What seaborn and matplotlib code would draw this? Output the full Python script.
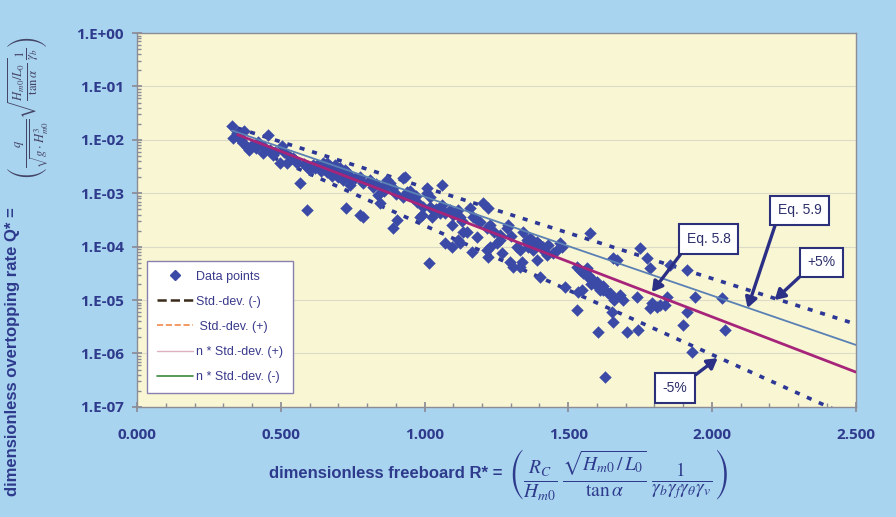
"""Dimensionless overtopping rate vs dimensionless freeboard (log scale)."""
import numpy as np
import pandas as pd
import matplotlib
matplotlib.use("Agg")
import matplotlib.pyplot as plt
from matplotlib.lines import Line2D
from matplotlib.ticker import FuncFormatter, MultipleLocator, LogLocator, NullFormatter
import seaborn as sns

OUTPUT_PATH = "out.png"

# measured data points: R* and Q*
r_star = [
    0.330, 0.334, 0.348, 0.372, 0.369, 0.382, 0.389, 0.414, 0.421, 0.438,
    0.455, 0.462, 0.473, 0.504, 0.511, 0.497, 0.532, 0.542, 0.556, 0.567,
    0.522, 0.591, 0.591, 0.602, 0.612, 0.626, 0.647, 0.647, 0.661, 0.671,
    0.681, 0.695, 0.699, 0.713, 0.716, 0.730, 0.741, 0.727, 0.741, 0.758,
    0.775, 0.775, 0.786, 0.786, 0.688, 0.706, 0.723, 0.678, 0.810, 0.821,
    0.838, 0.845, 0.869, 0.855, 0.890, 0.880, 0.890, 0.904, 0.925, 0.932,
    0.925, 0.939, 0.960, 0.974, 0.984, 0.994, 0.991, 1.008, 1.008, 1.019,
    1.019, 1.029, 1.026, 1.015, 1.061, 1.054, 1.071, 1.088, 1.095, 1.099,
    1.116, 1.123, 1.071, 1.095, 1.116, 1.123, 1.134, 1.158, 1.168, 1.147,
    1.165, 1.193, 1.203, 1.220, 1.227, 1.217, 1.182, 1.227, 1.217, 1.220,
    1.252, 1.262, 1.262, 1.286, 1.290, 1.269, 1.297, 1.307, 1.332, 1.339,
    1.332, 1.321, 1.342, 1.356, 1.356, 1.366, 1.377, 1.391, 1.401, 1.391,
    1.377, 1.401, 1.412, 1.426, 1.429, 1.446, 1.460, 1.471, 1.478, 1.488,
    1.533, 1.530, 1.530, 1.540, 1.551, 1.565, 1.565, 1.575, 1.547, 1.568,
    1.586, 1.603, 1.610, 1.620, 1.638, 1.603, 1.627, 1.645, 1.652, 1.655,
    1.655, 1.669, 1.655, 1.679, 1.690, 1.704, 1.742, 1.739, 1.749, 1.773,
    1.784, 1.784, 1.791, 1.808, 1.818, 1.836, 1.843, 1.853, 1.898, 1.912,
    1.940, 1.912, 1.930, 2.034, 2.045,
    0.650, 0.660, 0.670, 0.690, 0.700, 0.720, 0.730, 0.740, 0.620, 0.640,
    0.580, 0.550, 0.480, 0.440, 0.400, 0.360, 0.830, 0.860, 0.900, 0.950,
    0.970, 1.040, 1.060, 1.100, 1.130, 1.180, 1.240, 1.300, 1.360, 1.420,
    1.580, 1.600, 1.620, 1.660, 1.570,
]
q_star = [
    1.81e-2, 1.08e-2, 1.34e-2, 1.46e-2, 8.7e-3, 7.3e-3, 6.4e-3, 7.0e-3, 9.1e-3, 5.7e-3,
    1.23e-2, 6.4e-3, 5.2e-3, 7.7e-3, 5.9e-3, 3.7e-3, 4.8e-3, 4.6e-3, 3.7e-3, 1.55e-3,
    3.7e-3, 4.8e-4, 3.1e-3, 2.7e-3, 3.4e-3, 3.4e-3, 3.7e-3, 3.1e-3, 3.7e-3, 2.7e-3,
    2.7e-3, 2.4e-3, 2.0e-3, 2.4e-3, 1.77e-3, 2.2e-3, 1.77e-3, 5.3e-4, 1.43e-3, 1.93e-3,
    2.0e-3, 3.9e-4, 3.6e-4, 1.55e-3, 3.4e-3, 3.0e-3, 2.7e-3, 2.1e-3, 1.77e-3, 1.31e-3,
    9.2e-4, 6.5e-4, 1.77e-3, 1.31e-3, 1.25e-3, 1.55e-3, 2.2e-4, 3.1e-4, 1.93e-3, 2.0e-3,
    8.5e-4, 1.05e-3, 8.1e-4, 6.8e-4, 3.6e-4, 5.5e-4, 3.9e-4, 1.25e-3, 1.01e-3, 8.5e-4,
    5.5e-4, 4.8e-4, 3.6e-4, 4.9e-5, 1.43e-3, 4.3e-4, 4.3e-4, 4.8e-4, 2.5e-4, 3.9e-4,
    4.8e-4, 3.6e-4, 1.17e-4, 9.8e-5, 1.33e-4, 1.17e-4, 1.88e-4, 5.3e-4, 3.6e-4, 1.88e-4,
    7.9e-5, 2.9e-4, 6.5e-4, 5.3e-4, 2.5e-4, 2.2e-4, 1.51e-4, 9.8e-5, 8.6e-5, 6.4e-5,
    1.17e-4, 1.33e-4, 1.65e-4, 2.2e-4, 2.5e-4, 7.6e-5, 5.1e-5, 4.2e-5, 8.6e-5, 5.1e-5,
    4.2e-5, 9.8e-5, 1.88e-4, 1.33e-4, 1.17e-4, 1.45e-4, 1.22e-4, 1.22e-4, 1.07e-4, 5.6e-5,
    8.6e-5, 2.7e-5, 9.8e-5, 7.0e-5, 1.07e-4, 7.6e-5, 8.6e-5, 1.17e-4, 9.8e-5, 1.75e-5,
    1.41e-5, 6.5e-6, 4.2e-5, 3.6e-5, 3.2e-5, 3.6e-5, 4.0e-5, 1.80e-4, 1.54e-5, 2.7e-5,
    2.4e-5, 1.75e-5, 1.54e-5, 1.54e-5, 1.35e-5, 2.5e-6, 3.6e-7, 1.35e-5, 6.0e-6, 1.14e-5,
    6.1e-5, 5.6e-5, 3.9e-6, 1.24e-5, 1.0e-5, 2.5e-6, 2.7e-6, 1.14e-5, 9.4e-5, 6.1e-5,
    4.0e-5, 7.1e-6, 8.8e-6, 7.4e-6, 8.1e-6, 8.1e-6, 1.14e-5, 4.5e-5, 3.4e-6, 6.0e-6,
    1.14e-5, 3.6e-5, 1.06e-6, 1.09e-5, 2.7e-6,
    2.9e-3, 2.5e-3, 3.2e-3, 2.8e-3, 2.3e-3, 2.0e-3, 2.5e-3, 2.1e-3, 3.0e-3, 2.6e-3,
    3.5e-3, 4.2e-3, 6.0e-3, 7.5e-3, 8.0e-3, 1.0e-2, 1.5e-3, 1.1e-3, 9.5e-4, 1.1e-3,
    9.0e-4, 5.0e-4, 6.0e-4, 4.3e-4, 3.0e-4, 3.3e-4, 1.9e-4, 1.6e-4, 1.0e-4, 8.0e-5,
    2.0e-5, 2.2e-5, 1.8e-5, 1.0e-5, 3.0e-5,
]

# fitted lines, given by their end points
eq58_x = [0.35, 2.50]
eq58_q = [1.25e-2, 4.5e-7]
eq59_x = [0.33, 2.50]
eq59_q = [1.5e-2, 1.45e-6]
plus5_x = [0.35, 2.49]
plus5_q = [1.66e-2, 3.7e-6]
minus5_x = [0.35, 2.43]
minus5_q = [9.3e-3, 8.7e-8]

BG = "#a9d4ef"
PLOT_BG = "#f8f6d3"
NAVY = "#2e3a8c"
DOT = "#2d3896"
MARKER = "#3b4aa6"

sns.set_theme(style="ticks")
plt.rcParams["font.family"] = ["Liberation Sans", "DejaVu Sans"]
plt.rcParams["mathtext.fontset"] = "stix"

fig = plt.figure(figsize=(8.96, 5.17), dpi=100, facecolor=BG)
ax = fig.add_axes([0.153, 0.213, 0.802, 0.723])
ax.set_facecolor(PLOT_BG)

pts = pd.DataFrame({"R": r_star, "Q": q_star})

ax.set_yscale("log")
ax.set_xlim(0, 2.5)
ax.set_ylim(1e-7, 1.0)

for yv in [1e-1, 1e-2, 1e-3, 1e-4, 1e-5, 1e-6]:
    ax.axhline(yv, color="#dcdcc6", lw=0.8, zorder=0)

sns.lineplot(x=plus5_x, y=plus5_q, ax=ax, color=DOT, lw=2.6,
             linestyle=(0, (1.4, 2.2)), zorder=2)
sns.lineplot(x=minus5_x, y=minus5_q, ax=ax, color=DOT, lw=2.6,
             linestyle=(0, (1.4, 2.2)), zorder=2)
sns.scatterplot(data=pts, x="R", y="Q", ax=ax, marker="D", s=36,
                color=MARKER, edgecolor=MARKER, linewidth=0.3, zorder=3)
sns.lineplot(x=eq59_x, y=eq59_q, ax=ax, color="#5a80b4", lw=1.3, zorder=4)
sns.lineplot(x=eq58_x, y=eq58_q, ax=ax, color="#a6247a", lw=2.0, zorder=4)

# axes cosmetics
for side in ["left", "bottom", "top", "right"]:
    ax.spines[side].set_color("#8c8c96")
    ax.spines[side].set_linewidth(1.0)
    ax.spines[side].set_visible(True)

ax.xaxis.set_major_locator(MultipleLocator(0.5))
ax.xaxis.set_minor_locator(MultipleLocator(0.1))
ax.xaxis.set_major_formatter(FuncFormatter(lambda v, p: f"{v:.3f}"))
ax.yaxis.set_major_locator(LogLocator(base=10, numticks=10))
ax.yaxis.set_minor_locator(LogLocator(base=10, subs=np.arange(2, 10), numticks=10))
ax.yaxis.set_minor_formatter(NullFormatter())
ax.yaxis.set_major_formatter(
    FuncFormatter(lambda v, p: f"1.E{int(round(np.log10(v))):+03d}"))

ax.tick_params(axis="both", which="major", direction="inout", length=7,
               color="#8c8c96", labelcolor=NAVY, labelsize=11)
ax.tick_params(axis="both", which="minor", direction="in", length=3,
               color="#8c8c96")
ax.tick_params(axis="x", which="major", pad=12)
ax.tick_params(axis="y", which="major", pad=6)
for lab in ax.get_xticklabels() + ax.get_yticklabels():
    lab.set_fontfamily(["Open Sans", "DejaVu Sans"])
    lab.set_fontweight("bold")
ax.set_xlabel("")
ax.set_ylabel("")

# legend (Excel style entries)
handles = [
    Line2D([], [], marker="D", ls="none", color=MARKER, markersize=5),
    Line2D([], [], ls="--", color="#3a2a1a", lw=1.8),
    Line2D([], [], ls="--", color="#f08a4a", lw=1.2),
    Line2D([], [], ls="-", color="#e0b0c0", lw=1.0),
    Line2D([], [], ls="-", color="#3a8a3a", lw=1.2),
]
labels = ["Data points", "Std.-dev. (-)", " Std.-dev. (+)",
          "n * Std.-dev. (+)", "n * Std.-dev. (-)"]
leg = ax.legend(handles, labels, loc="lower left",
                bbox_to_anchor=(0.014, 0.037), borderaxespad=0,
                frameon=True, fancybox=False, fontsize=9,
                labelspacing=1.05, handlelength=2.9, handletextpad=0.2,
                borderpad=0.8, labelcolor="#3a3a8c")
leg.get_frame().set_edgecolor("#8a80b0")
leg.get_frame().set_facecolor("white")
leg.get_frame().set_linewidth(1.0)
leg.get_frame().set_alpha(1)

# callouts
box = dict(boxstyle="square,pad=0.55", fc="white", ec="#2c2f7a", lw=1.5)
arrow = dict(arrowstyle="-|>,head_length=0.6,head_width=0.35", color="#2b2f85",
             lw=2.4, shrinkA=0, shrinkB=0)
callouts = [
    ("Eq. 5.8", (1.791, 1.41e-5), (1.989, 1.39e-4), (0.0, 0.0)),
    ("Eq. 5.9", (2.124, 7.1e-6), (2.305, 4.8e-4), (0.0, 0.0)),
    ("+5%", (2.218, 1.0e-5), (2.382, 5.1e-5), (0.0, 0.0)),
    ("-5%", (2.020, 8.2e-7), (1.871, 2.25e-7), (1.0, 1.0)),
]
for text, tip, pos, rel in callouts:
    ax.annotate(text, xy=tip, xytext=pos, ha="center", va="center",
                fontsize=10, color="#2c2f6a", bbox=box,
                arrowprops=dict(arrow, relpos=rel), zorder=6)

# axis titles with formulas
fig.text(0.300, 0.085, "dimensionless freeboard R* =", fontsize=12,
         fontweight="bold", color=NAVY, va="center", ha="left")
fig.text(0.567, 0.082,
         r"$\left(\frac{R_C}{H_{m0}}\,\frac{\sqrt{H_{m0}\,/\,L_0}}{\tan\alpha}"
         r"\,\frac{1}{\gamma_b\gamma_f\gamma_\theta\gamma_v}\right)$",
         fontsize=20, color=NAVY, va="center", ha="left")
fig.text(0.014, 0.32, "dimensionless overtopping rate Q* =", fontsize=12,
         fontweight="bold", color=NAVY, rotation=90, va="center", ha="center")
fig.text(0.032, 0.79,
         r"$\left(\frac{q}{\sqrt{g\cdot H_{m0}^3}}\sqrt{\frac{H_{m0}/L_0}{\tan\alpha}}"
         r"\frac{1}{\gamma_b}\right)$",
         fontsize=13, color="#444466", rotation=90, va="center", ha="center")

fig.savefig(OUTPUT_PATH, dpi=100, facecolor=BG)
plt.close(fig)
print(f"Saved: {OUTPUT_PATH}")
